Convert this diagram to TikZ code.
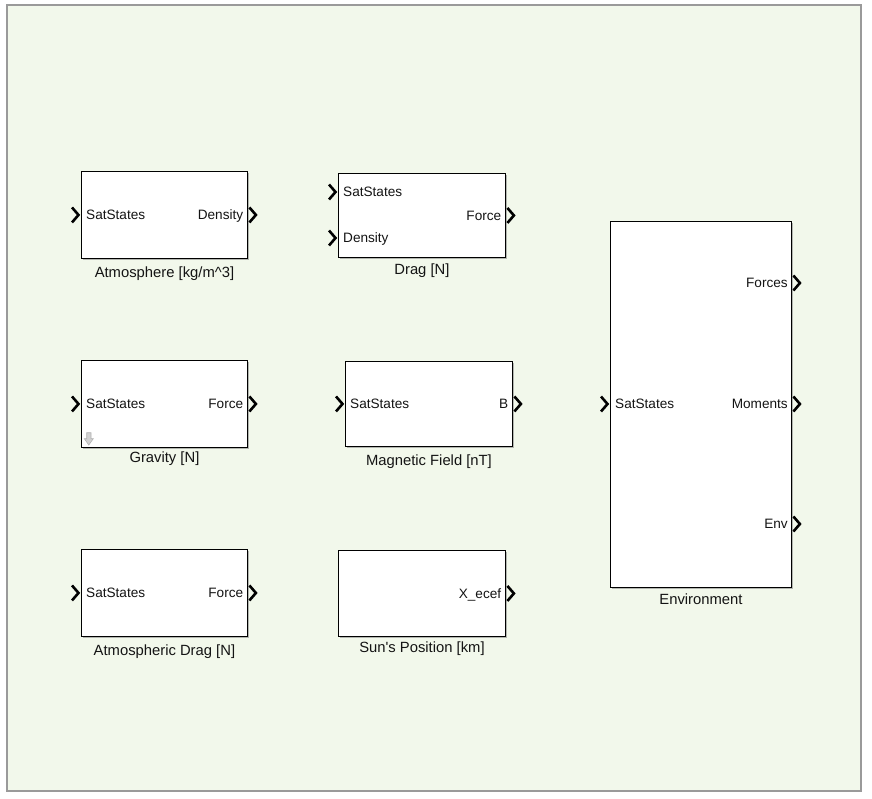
\documentclass[tikz,border=0pt]{standalone}
\usepackage{fontspec}
\setmainfont{Liberation Sans}[Ligatures=TeXOff]
\usetikzlibrary{calc,shadows}
\definecolor{canvasbg}{RGB}{242,248,235}
\definecolor{framegray}{RGB}{154,154,154}
\definecolor{txt}{RGB}{20,20,20}
\tikzset{
  block/.style={draw=black, line width=0.9pt, fill=white, anchor=north west, inner sep=0pt,
    drop shadow={shadow xshift=2pt, shadow yshift=-2pt, opacity=0.55, fill=gray}},
  portchev/.style={draw=black, line width=2.6pt, line join=miter, line cap=butt},
  inlab/.style={anchor=base west, inner sep=0pt, text=txt, font=\fontsize{13.6pt}{15pt}\selectfont},
  outlab/.style={anchor=base east, inner sep=0pt, text=txt, font=\fontsize{13.6pt}{15pt}\selectfont},
  blabel/.style={anchor=base, inner sep=0pt, text=txt, font=\fontsize{14.8pt}{17pt}\selectfont}
}
\newcommand{\inport}[1]{\draw[portchev] ($(#1)+(-9,-7.5)$) -- ++(6.5,7.5) -- ++(-6.5,7.5);}
\newcommand{\outport}[1]{\draw[portchev] ($(#1)+(1.5,-7.5)$) -- ++(6.5,7.5) -- ++(-6.5,7.5);}
\begin{document}
\begin{tikzpicture}[x=1pt,y=-1pt]
\useasboundingbox (0,0) rectangle (872,799);
\fill[white] (0,0) rectangle (872,799);
\draw[framegray, line width=2pt, fill=canvasbg] (7,5) rectangle (861,791);

% blocks
\node[block, minimum width=166pt, minimum height=87pt] (atm) at (81,171) {};
\node[block, minimum width=167pt, minimum height=84pt] (drag) at (338,173) {};
\node[block, minimum width=166pt, minimum height=87pt] (grav) at (81,360) {};
\node[block, minimum width=167pt, minimum height=85pt] (mag) at (345,361) {};
\node[block, minimum width=166pt, minimum height=87pt] (adrag) at (81,549) {};
\node[block, minimum width=167pt, minimum height=86pt] (sun) at (338,550) {};
\node[block, minimum width=181pt, minimum height=366pt] (env) at (610,221) {};

% port coordinates
\coordinate (atmin) at (atm.west);
\coordinate (atmout) at (atm.east);
\coordinate (dragin1) at ($(drag.north west)+(0,19)$);
\coordinate (dragin2) at ($(drag.north west)+(0,65)$);
\coordinate (dragout) at (drag.east);
\coordinate (gravin) at (grav.west);
\coordinate (gravout) at (grav.east);
\coordinate (magin) at (mag.west);
\coordinate (magout) at (mag.east);
\coordinate (adragin) at (adrag.west);
\coordinate (adragout) at (adrag.east);
\coordinate (sunout) at (sun.east);
\coordinate (envin) at ($(env.north west)+(0,183)$);
\coordinate (envout1) at ($(env.north east)+(0,62)$);
\coordinate (envout2) at ($(env.north east)+(0,183)$);
\coordinate (envout3) at ($(env.north east)+(0,303)$);

% chevrons
\inport{atmin} \outport{atmout}
\inport{dragin1} \inport{dragin2} \outport{dragout}
\inport{gravin} \outport{gravout}
\inport{magin} \outport{magout}
\inport{adragin} \outport{adragout}
\outport{sunout}
\inport{envin} \outport{envout1} \outport{envout2} \outport{envout3}

% port labels
\node[inlab] (atmt1) at ($(atmin)+(5,4.7)$) {SatStates};
\node[outlab] (atmt2) at ($(atmout)+(-4.5,4.7)$) {Density};
\node[inlab] (dragt1) at ($(dragin1)+(5,4.7)$) {SatStates};
\node[inlab] (dragt2) at ($(dragin2)+(5,4.7)$) {Density};
\node[outlab] (dragt3) at ($(dragout)+(-4.5,4.7)$) {Force};
\node[inlab] (gravt1) at ($(gravin)+(5,4.7)$) {SatStates};
\node[outlab] (gravt2) at ($(gravout)+(-4.5,4.7)$) {Force};
\node[inlab] (magt1) at ($(magin)+(5,4.7)$) {SatStates};
\node[outlab] (magt2) at ($(magout)+(-4.5,4.7)$) {B};
\node[inlab] (adragt1) at ($(adragin)+(5,4.7)$) {SatStates};
\node[outlab] (adragt2) at ($(adragout)+(-4.5,4.7)$) {Force};
\node[outlab] (sunt1) at ($(sunout)+(-4.5,4.7)$) {X\_ecef};
\node[inlab] (envt0) at ($(envin)+(5,4.7)$) {SatStates};
\node[outlab] (envt1) at ($(envout1)+(-4,4.7)$) {Forces};
\node[outlab] (envt2) at ($(envout2)+(-4,4.7)$) {Moments};
\node[outlab] (envt3) at ($(envout3)+(-4,4.7)$) {Env};

% block labels
\node[blabel] (atml) at (atm.south |- 0,277.5) {Atmosphere [kg/m\^{}3]};
\node[blabel] (dragl) at (drag.south |- 0,274.6) {Drag [N]};
\node[blabel] (gravl) at (grav.south |- 0,462.5) {Gravity [N]};
\node[blabel] (magl) at (mag.south |- 0,465.5) {Magnetic Field [nT]};
\node[blabel] (adragl) at (adrag.south |- 0,655.5) {Atmospheric Drag [N]};
\node[blabel] (sunl) at (sun.south |- 0,652.6) {Sun's Position [km]};
\node[blabel] (envl) at (env.south |- 0,604.3) {Environment};

% gravity icon (hollow down arrow)
\draw[fill=gray!35, draw=gray!60, line width=0.6pt]
  (86.7,432.7) -- (91,432.7) -- (91,438.7) -- (93.3,438.7) -- (88.8,445) -- (84.3,438.7) -- (86.7,438.7) -- cycle;
\end{tikzpicture}
\end{document}
